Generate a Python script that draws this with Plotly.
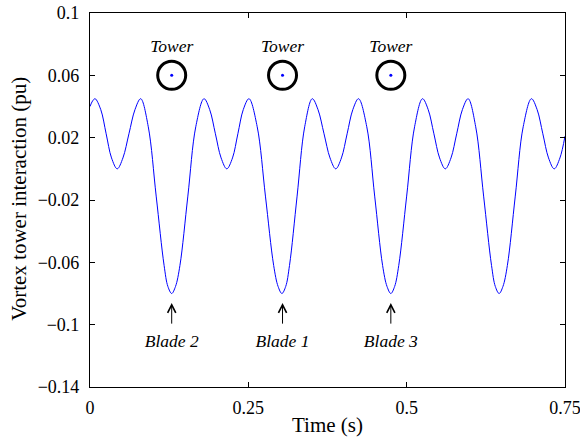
import plotly.graph_objects as go

# Signal samples (time s, value pu)
time_s = [0.000, 0.004, 0.008, 0.017, 0.0255, 0.034, 0.043,
          0.052, 0.0615, 0.071, 0.080,
          0.092, 0.1045, 0.117, 0.123, 0.129, 0.135,
          0.142, 0.1545, 0.167, 0.180,
          0.189, 0.198, 0.207, 0.216,
          0.225, 0.2335, 0.242, 0.251,
          0.264, 0.277, 0.290, 0.297, 0.303, 0.309,
          0.315, 0.327, 0.339, 0.351,
          0.360, 0.3695, 0.379, 0.388,
          0.397, 0.406, 0.415, 0.424,
          0.437, 0.4495, 0.462, 0.469, 0.475, 0.481,
          0.4875, 0.500, 0.5125, 0.525,
          0.534, 0.543, 0.552, 0.561,
          0.570, 0.579, 0.588, 0.597,
          0.609, 0.6215, 0.634, 0.640, 0.646, 0.652,
          0.659, 0.6715, 0.684, 0.697,
          0.706, 0.715, 0.724, 0.733,
          0.742, 0.750]
interaction = [0.040, 0.0435, 0.045, 0.038, 0.0225, 0.007, 0.000,
               0.007, 0.0225, 0.038, 0.045,
               0.027, -0.0175, -0.062, -0.0755, -0.080, -0.0755,
               -0.062, -0.0175, 0.027, 0.045,
               0.038, 0.0225, 0.007, 0.000,
               0.007, 0.0225, 0.038, 0.045,
               0.027, -0.0175, -0.062, -0.0755, -0.080, -0.0755,
               -0.062, -0.0175, 0.027, 0.045,
               0.038, 0.0225, 0.007, 0.000,
               0.007, 0.0225, 0.038, 0.045,
               0.027, -0.0175, -0.062, -0.0755, -0.080, -0.0755,
               -0.062, -0.0175, 0.027, 0.045,
               0.038, 0.0225, 0.007, 0.000,
               0.007, 0.0225, 0.038, 0.045,
               0.027, -0.0175, -0.062, -0.0755, -0.080, -0.0755,
               -0.062, -0.0175, 0.027, 0.045,
               0.038, 0.0225, 0.007, 0.000,
               0.007, 0.021]

# Annotations
tower_t = [0.129, 0.304, 0.475]
tower_y = [0.06, 0.06, 0.06]
tower_label_y = 0.078
blade_t = [0.129, 0.304, 0.475]
blade_labels = ["Blade 2", "Blade 1", "Blade 3"]
arrow_head_y = -0.0861
arrow_tail_y = -0.1003
blade_label_y = -0.1116

x_ticks = [0, 0.25, 0.5, 0.75]
x_tick_text = ["0", "0.25", "0.5", "0.75"]
y_ticks = [0.1, 0.06, 0.02, -0.02, -0.06, -0.1, -0.14]
y_tick_text = ["0.1", "0.06", "0.02", "\u22120.02", "\u22120.06", "\u22120.1", "\u22120.14"]

FONT = "Liberation Serif, Times New Roman, serif"

fig = go.Figure()
fig.add_trace(go.Scatter(x=time_s, y=interaction, mode="lines",
                         line=dict(color="#0000ff", width=1, shape="spline", smoothing=1.0),
                         showlegend=False, hoverinfo="skip"))
fig.add_trace(go.Scatter(x=tower_t, y=tower_y, mode="markers",
                         marker=dict(symbol="circle-open", size=28,
                                     line=dict(color="black", width=3), color="black"),
                         showlegend=False, hoverinfo="skip"))
fig.add_trace(go.Scatter(x=tower_t, y=tower_y, mode="markers",
                         marker=dict(symbol="circle", size=3, color="#0000ff"),
                         showlegend=False, hoverinfo="skip"))
fig.add_trace(go.Scatter(x=tower_t, y=[tower_label_y] * len(tower_t), mode="text",
                         text=["<i>Tower</i>"] * len(tower_t),
                         textfont=dict(family=FONT, size=17.5, color="black"),
                         showlegend=False, hoverinfo="skip"))
fig.add_trace(go.Scatter(x=blade_t, y=[blade_label_y] * len(blade_t), mode="text",
                         text=["<i>%s</i>" % s for s in blade_labels],
                         textfont=dict(family=FONT, size=17.5, color="black"),
                         showlegend=False, hoverinfo="skip"))

arrows = [dict(x=t, y=arrow_head_y, ax=t, ay=arrow_tail_y, xref="x", yref="y",
               axref="x", ayref="y", showarrow=True, arrowhead=5, arrowsize=1.6,
               arrowwidth=1, arrowcolor="black", text="") for t in blade_t]

axis_common = dict(showgrid=False, zeroline=False, showline=True, linecolor="black",
                   linewidth=1.2, mirror="allticks", ticks="inside", ticklen=5,
                   tickcolor="black", automargin=False, ticklabeloverflow="allow",
                   tickfont=dict(family=FONT, size=18, color="black"))

fig.update_layout(
    width=580, height=441,
    margin=dict(l=90, r=15, t=13, b=54),
    plot_bgcolor="white", paper_bgcolor="white",
    font=dict(family=FONT, color="black"),
    xaxis=dict(range=[0, 0.75], tickvals=x_ticks, ticktext=x_tick_text,
               ticklabelstandoff=4, **axis_common),
    yaxis=dict(range=[-0.14, 0.1], tickvals=y_ticks, ticktext=y_tick_text,
               ticklabelstandoff=6, **axis_common),
    annotations=arrows + [
        dict(text="Time (s)", xref="paper", yref="paper", x=0.5, y=-0.1016,
             xanchor="center", yanchor="middle", showarrow=False,
             font=dict(family=FONT, size=21, color="black")),
        dict(text="Vortex tower interaction (pu)", xref="paper", yref="paper",
             x=-0.151, y=0.504, xanchor="center", yanchor="middle", textangle=-90,
             showarrow=False, font=dict(family=FONT, size=21, color="black")),
    ],
)

fig.write_html("out.html", config={"displayModeBar": False},
               post_script="document.body.style.margin='0';document.body.style.overflow='hidden';")
